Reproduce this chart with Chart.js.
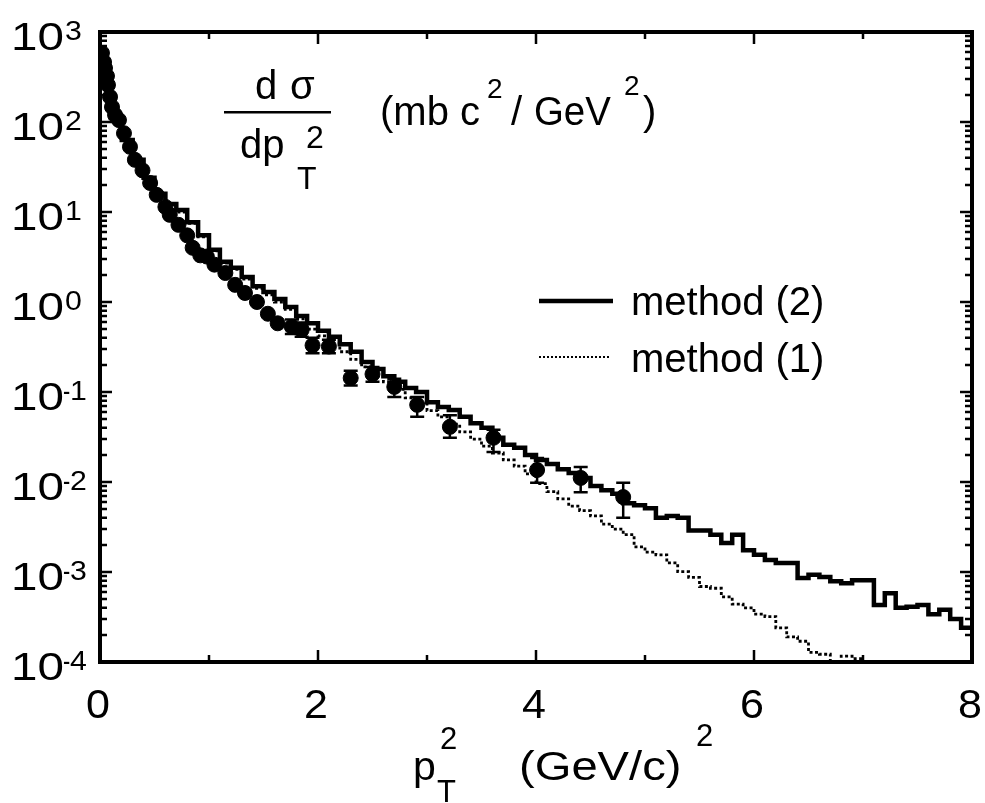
<!DOCTYPE html>
<html>
<head>
<meta charset="utf-8">
<script src="https://cdn.jsdelivr.net/npm/chart.js@4.4.1/dist/chart.umd.min.js"></script>
<style>
  html, body { margin: 0; padding: 0; background: #fff; }
  #wrap { width: 985px; height: 803px; }
</style>
</head>
<body>
<div id="wrap"><canvas id="c" width="985" height="803"></canvas></div>
<script>
// ---- data ----
const binEdges = [0.0,0.1,0.2,0.3,0.4,0.5,0.6,0.7,0.8,0.9,1.0,1.1,1.2,1.3,1.4,1.5,1.6,1.7,1.8,1.9,
  2.0,2.1,2.2,2.3,2.4,2.5,2.6,2.7,2.8,2.9,3.0,3.1,3.2,3.3,3.4,3.5,3.6,3.7,3.8,3.9,
  4.0,4.1,4.2,4.3,4.4,4.5,4.6,4.7,4.8,4.9,5.0,5.1,5.2,5.3,5.4,5.5,5.6,5.7,5.8,5.9,
  6.0,6.1,6.2,6.3,6.4,6.5,6.6,6.7,6.8,6.9,7.0,7.1,7.2,7.3,7.4,7.5,7.6,7.7,7.8,7.9,8.0];

const method2 = [293,111,63,38,24,16,12.3,10.5,7.7,5.5,
  3.8,2.8,2.4,1.9,1.5,1.29,1.08,0.88,0.70,0.58,
  0.48,0.41,0.34,0.28,0.215,0.18,0.15,0.13,0.111,0.10,
  0.077,0.068,0.063,0.053,0.045,0.040,0.031,0.026,0.024,0.020,
  0.0176,0.0158,0.0139,0.0126,0.0111,0.0090,0.0081,0.0074,0.0058,0.0055,
  0.0051,0.0040,0.0042,0.0040,0.0029,0.0029,0.0026,0.0021,0.0026,0.00175,
  0.00155,0.00136,0.00126,0.00126,0.00086,0.00093,0.00088,0.00079,0.00075,0.00081,
  0.00081,0.00043,0.00058,0.00040,0.00041,0.00043,0.00034,0.00038,0.00030,0.00024];

const method1 = [290,110,62,37,23.5,15.5,12,10,7.5,5.3,
  3.7,2.7,2.3,1.8,1.42,1.2,1.0,0.83,0.65,0.50,
  0.42,0.35,0.28,0.23,0.19,0.15,0.13,0.107,0.086,0.074,
  0.062,0.053,0.044,0.036,0.030,0.025,0.021,0.0176,0.015,0.0123,
  0.0096,0.0078,0.0065,0.0054,0.0048,0.0042,0.0034,0.0030,0.0026,0.0019,
  0.00166,0.00155,0.00126,0.00101,0.00087,0.00069,0.00066,0.00053,0.00044,0.00040,
  0.00034,0.00032,0.00024,0.00019,0.00017,0.000128,0.000122,0.000095,0.000116,0.000109];

const dataX = [0.018,0.037,0.046,0.064,0.073,0.092,0.11,0.138,0.174,0.22,
  0.275,0.32,0.39,0.46,0.52,0.60,0.64,0.72,0.80,0.85,
  0.92,0.98,1.05,1.15,1.24,1.33,1.44,1.54,1.63,1.76,
  1.85,1.95,2.10,2.30,2.50,2.70,2.91,3.21,3.61,4.01,4.41,4.80];
const dataY = [585,464,398,324,258,190,147,120,105,75,
  53,38,29,21,15.5,11.4,9.3,7.2,5.5,4.0,
  3.3,3.2,2.6,2.1,1.55,1.26,1.0,0.74,0.58,0.53,
  0.49,0.33,0.32,0.143,0.158,0.114,0.072,0.041,0.031,0.0136,0.0111,0.0068];
const errLo = [null,null,null,null,null,null,null,null,null,null,
  null,null,null,null,null,null,null,null,null,null,
  null,null,null,null,null,null,null,null,null,0.44,
  0.41,0.27,0.27,0.118,0.13,0.088,0.053,0.031,0.0215,0.0098,0.0077,0.0040];
const errHi = [null,null,null,null,null,null,null,null,null,null,
  null,null,null,null,null,null,null,null,null,null,
  null,null,null,null,null,null,null,null,null,0.64,
  0.59,0.40,0.38,0.172,0.19,0.14,0.088,0.055,0.038,0.0185,0.0147,0.0098];

const xTickLabels = ['0','2','4','6','8'];
const xMajor = [0,2,4,6,8];
const xMinor = [1,3,5,7];
const yExponents = [3,2,1,0,-1,-2,-3,-4];

const legendLabels = ['method (2)','method (1)'];

// ---- build step series ----
function stepPoints(vals) {
  const pts = vals.map((v,i) => ({x: binEdges[i], y: v}));
  pts.push({x: binEdges[vals.length], y: vals[vals.length-1]});
  return pts;
}

const FONT = '"Liberation Sans", Arial, Helvetica, sans-serif';
function txt(ctx, s, x, y, size, align, sx) {
  ctx.save();
  ctx.font = size + 'px ' + FONT;
  ctx.fillStyle = '#000';
  ctx.textAlign = align || 'left';
  ctx.textBaseline = 'alphabetic';
  ctx.translate(x, y);
  ctx.scale(sx || 1, 1);
  ctx.fillText(s, 0, 0);
  ctx.restore();
}

const decor = {
  id: 'decor',
  afterDatasetsDraw(chart) {
    const ctx = chart.ctx, xs = chart.scales.x, ys = chart.scales.y;
    ctx.save();
    ctx.strokeStyle = '#000';
    ctx.lineWidth = 2.5;
    for (let i = 0; i < dataX.length; i++) {
      if (errLo[i] == null) continue;
      const px = xs.getPixelForValue(dataX[i]);
      const y1 = ys.getPixelForValue(errLo[i]);
      const y2 = ys.getPixelForValue(errHi[i]);
      ctx.beginPath();
      ctx.moveTo(px, y1); ctx.lineTo(px, y2);
      ctx.moveTo(px - 7, y1); ctx.lineTo(px + 7, y1);
      ctx.moveTo(px - 7, y2); ctx.lineTo(px + 7, y2);
      ctx.stroke();
    }
    ctx.restore();
  },
  afterDraw(chart) {
    const ctx = chart.ctx, xs = chart.scales.x, ys = chart.scales.y;
    const a = chart.chartArea;
    ctx.save();
    ctx.strokeStyle = '#000';
    ctx.lineWidth = 4;
    ctx.strokeRect(a.left, a.top, a.right - a.left, a.bottom - a.top);
    ctx.lineWidth = 2.5;
    ctx.beginPath();
    xMajor.forEach(v => {
      const p = xs.getPixelForValue(v);
      ctx.moveTo(p, a.bottom); ctx.lineTo(p, a.bottom - 12);
      ctx.moveTo(p, a.top); ctx.lineTo(p, a.top + 12);
    });
    xMinor.forEach(v => {
      const p = xs.getPixelForValue(v);
      ctx.moveTo(p, a.bottom); ctx.lineTo(p, a.bottom - 7);
      ctx.moveTo(p, a.top); ctx.lineTo(p, a.top + 7);
    });
    yExponents.forEach(e => {
      const base = Math.pow(10, e);
      const p = ys.getPixelForValue(base);
      ctx.moveTo(a.left, p); ctx.lineTo(a.left + 12, p);
      ctx.moveTo(a.right, p); ctx.lineTo(a.right - 12, p);
      if (e < 3) {
        for (let m = 2; m <= 9; m++) {
          const q = ys.getPixelForValue(base * m);
          ctx.moveTo(a.left, q); ctx.lineTo(a.left + 7, q);
          ctx.moveTo(a.right, q); ctx.lineTo(a.right - 7, q);
        }
      }
    });
    ctx.stroke();
    ctx.restore();

    // y tick labels
    yExponents.forEach(e => {
      const p = ys.getPixelForValue(Math.pow(10, e));
      txt(ctx, '10', 64, p + 18, 39, 'right', 1.22);
      if (e < 0) {
        txt(ctx, '-', 63, p + 8, 27, 'left', 0.8);
        txt(ctx, String(-e), 70, p + 8, 27, 'left', 1.12);
      } else {
        txt(ctx, String(e), 65, p + 8, 27, 'left', 1.12);
      }
    });
    // x tick labels
    xMajor.forEach((v, i) => {
      const p = xs.getPixelForValue(v);
      txt(ctx, xTickLabels[i], p - 2, 718, 41, 'center', 1.05);
    });
    // x title
    txt(ctx, 'p', 413, 780, 41, 'left', 1.0);
    txt(ctx, '2', 440, 749, 31, 'left', 1.0);
    txt(ctx, 'T', 437, 802, 31, 'left', 1.0);
    txt(ctx, '(GeV/c)', 519, 780, 41, 'left', 1.15);
    txt(ctx, '2', 696, 746, 31, 'left', 1.0);

    // annotation
    txt(ctx, 'd', 255, 99, 40, 'left', 1.0);
    txt(ctx, '\u03C3', 290, 99, 40, 'left', 1.0);
    ctx.save();
    ctx.fillStyle = '#000';
    ctx.fillRect(224, 111, 107, 2.5);
    ctx.restore();
    txt(ctx, 'dp', 240, 158, 40, 'left', 1.0);
    txt(ctx, '2', 306, 148, 32, 'left', 1.0);
    txt(ctx, 'T', 297, 189, 32, 'left', 1.0);
    txt(ctx, '(mb c', 380, 125, 40, 'left', 1.0);
    txt(ctx, '2', 487, 98, 28, 'left', 1.0);
    txt(ctx, '/', 511, 125, 40, 'left', 1.0);
    txt(ctx, 'GeV', 534, 125, 40, 'left', 0.96);
    txt(ctx, '2', 624, 95, 28, 'left', 1.0);
    txt(ctx, ')', 643, 125, 40, 'left', 1.0);

    // legend
    ctx.save();
    ctx.strokeStyle = '#000';
    ctx.lineWidth = 4.5;
    ctx.beginPath(); ctx.moveTo(539, 301); ctx.lineTo(613, 301); ctx.stroke();
    ctx.lineWidth = 2;
    ctx.setLineDash([2, 2]);
    ctx.beginPath(); ctx.moveTo(539, 357); ctx.lineTo(611, 357); ctx.stroke();
    ctx.restore();
    txt(ctx, legendLabels[0], 631, 315, 40, 'left', 1.0);
    txt(ctx, legendLabels[1], 631, 372, 40, 'left', 1.0);
  }
};

new Chart(document.getElementById('c'), {
  data: {
    datasets: [
      { type: 'line', label: legendLabels[0], data: stepPoints(method2), stepped: true,
        borderColor: '#000', borderWidth: 4.5, pointRadius: 0, fill: false,
        borderJoinStyle: 'miter', borderCapStyle: 'butt', order: 2 },
      { type: 'line', label: legendLabels[1], data: stepPoints(method1), stepped: true,
        borderColor: '#000', borderWidth: 2.8, borderDash: [3, 2.5], pointRadius: 0, fill: false,
        borderJoinStyle: 'miter', borderCapStyle: 'butt', order: 3 },
      { type: 'scatter', label: 'data', data: dataX.map((x, i) => ({x: x, y: dataY[i]})),
        backgroundColor: '#000', borderColor: '#000', pointRadius: 7.5, pointHoverRadius: 7.5, order: 1 }
    ]
  },
  options: {
    responsive: false,
    animation: false,
    events: [],
    layout: { padding: { left: 100, top: 32, right: 13, bottom: 141 } },
    plugins: { legend: { display: false }, tooltip: { enabled: false } },
    scales: {
      x: { type: 'linear', min: 0, max: 8, display: false },
      y: { type: 'logarithmic', min: 1e-4, max: 1e3, display: false }
    }
  },
  plugins: [decor]
});
</script>
</body>
</html>
